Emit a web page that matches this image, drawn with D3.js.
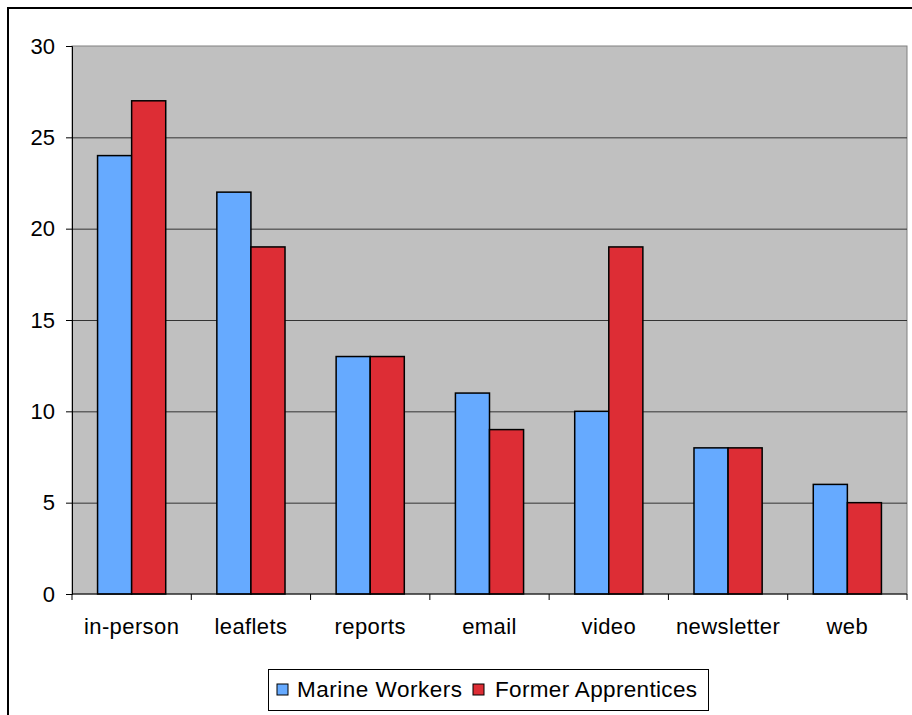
<!DOCTYPE html>
<html><head><meta charset="utf-8">
<script src="https://cdn.jsdelivr.net/npm/d3@7"></script>
<style>body{margin:0;background:#fff}svg{display:block}text{font-family:"Liberation Sans",Arial,sans-serif;fill:#000}</style>
</head><body><svg id="c" width="912" height="715"></svg>
<script>
const categories = ["in-person","leaflets","reports","email","video","newsletter","web"];
const seriesNames = ["Marine Workers","Former Apprentices"];
const marineWorkers = [24,22,13,11,10,8,6];
const formerApprentices = [27,19,13,9,19,8,5];
const yTicks = [0,5,10,15,20,25,30];
const colors = ["#66AAFF","#DD2D35"];

const svg = d3.select("#c");
const W=912,H=715;
svg.append("rect").attr("x",8).attr("y",8).attr("width",W).attr("height",H).attr("fill","none").attr("stroke","#000").attr("stroke-width",2);

const L=72,R=907,T=46,B=594;
const x0 = d3.scaleBand().domain(categories).range([L,R]).paddingInner(0).paddingOuter(0);
const bw = x0.bandwidth()/3.5;
const x1 = d3.scaleBand().domain([0,1]).range([0,2*bw]);
const y = d3.scaleLinear().domain([0,30]).range([B,T]);

svg.append("rect").attr("x",L).attr("y",T).attr("width",R-L).attr("height",B-T).attr("fill","#C0C0C0").attr("stroke","#808080").attr("stroke-width",1);

svg.append("g").selectAll("line").data(yTicks.filter(v=>v>0&&v<30)).join("line")
  .attr("x1",L).attr("x2",R).attr("y1",d=>y(d)+0.5).attr("y2",d=>y(d)+0.5).attr("stroke","#333").attr("stroke-width",1);

const data = categories.map((c,i)=>({c,vals:[marineWorkers[i],formerApprentices[i]]}));
const g = svg.append("g").selectAll("g").data(data).join("g")
  .attr("transform",d=>`translate(${x0(d.c)+(x0.bandwidth()-2*bw)/2},0)`);
g.selectAll("rect").data(d=>d.vals.map((v,i)=>({v,i}))).join("rect")
  .attr("x",d=>x1(d.i)).attr("width",bw).attr("y",d=>y(d.v)).attr("height",d=>B-y(d.v))
  .attr("fill",d=>colors[d.i]).attr("stroke","#000").attr("stroke-width",1.5);

const ya = svg.append("g").attr("transform",`translate(${L},0)`)
  .call(d3.axisLeft(y).tickValues(yTicks).tickSize(6).tickPadding(11));
ya.select(".domain").attr("stroke","#000");
ya.selectAll("line").attr("stroke","#000");
ya.selectAll("text").attr("font-size",22).attr("font-family","Liberation Sans, Arial, sans-serif");

const xa = svg.append("g").attr("transform",`translate(0,${B})`);
xa.append("line").attr("x1",L).attr("x2",R).attr("y1",0).attr("y2",0).attr("stroke","#000");
xa.selectAll("line.t").data(d3.range(categories.length+1)).join("line").attr("class","t")
  .attr("x1",i=>L+i*x0.step()).attr("x2",i=>L+i*x0.step()).attr("y1",0).attr("y2",6).attr("stroke","#000");
xa.selectAll("text").data(categories).join("text")
  .attr("x",d=>x0(d)+x0.bandwidth()/2).attr("y",40).attr("text-anchor","middle").attr("font-size",22).attr("letter-spacing",0.4).text(d=>d);

const lg = svg.append("g");
lg.append("rect").attr("x",268.5).attr("y",669.5).attr("width",440).attr("height",41).attr("fill","#fff").attr("stroke","#000");
const swX=[277,473], txX=[297,495], txW=[165,202];
seriesNames.forEach((n,i)=>{
  lg.append("rect").attr("x",swX[i]).attr("y",684).attr("width",11).attr("height",11).attr("fill",colors[i]).attr("stroke","#000");
  lg.append("text").attr("x",txX[i]).attr("y",697).attr("font-size",22.5).attr("textLength",txW[i]).attr("lengthAdjust","spacing").text(n);
});
</script></body></html>
